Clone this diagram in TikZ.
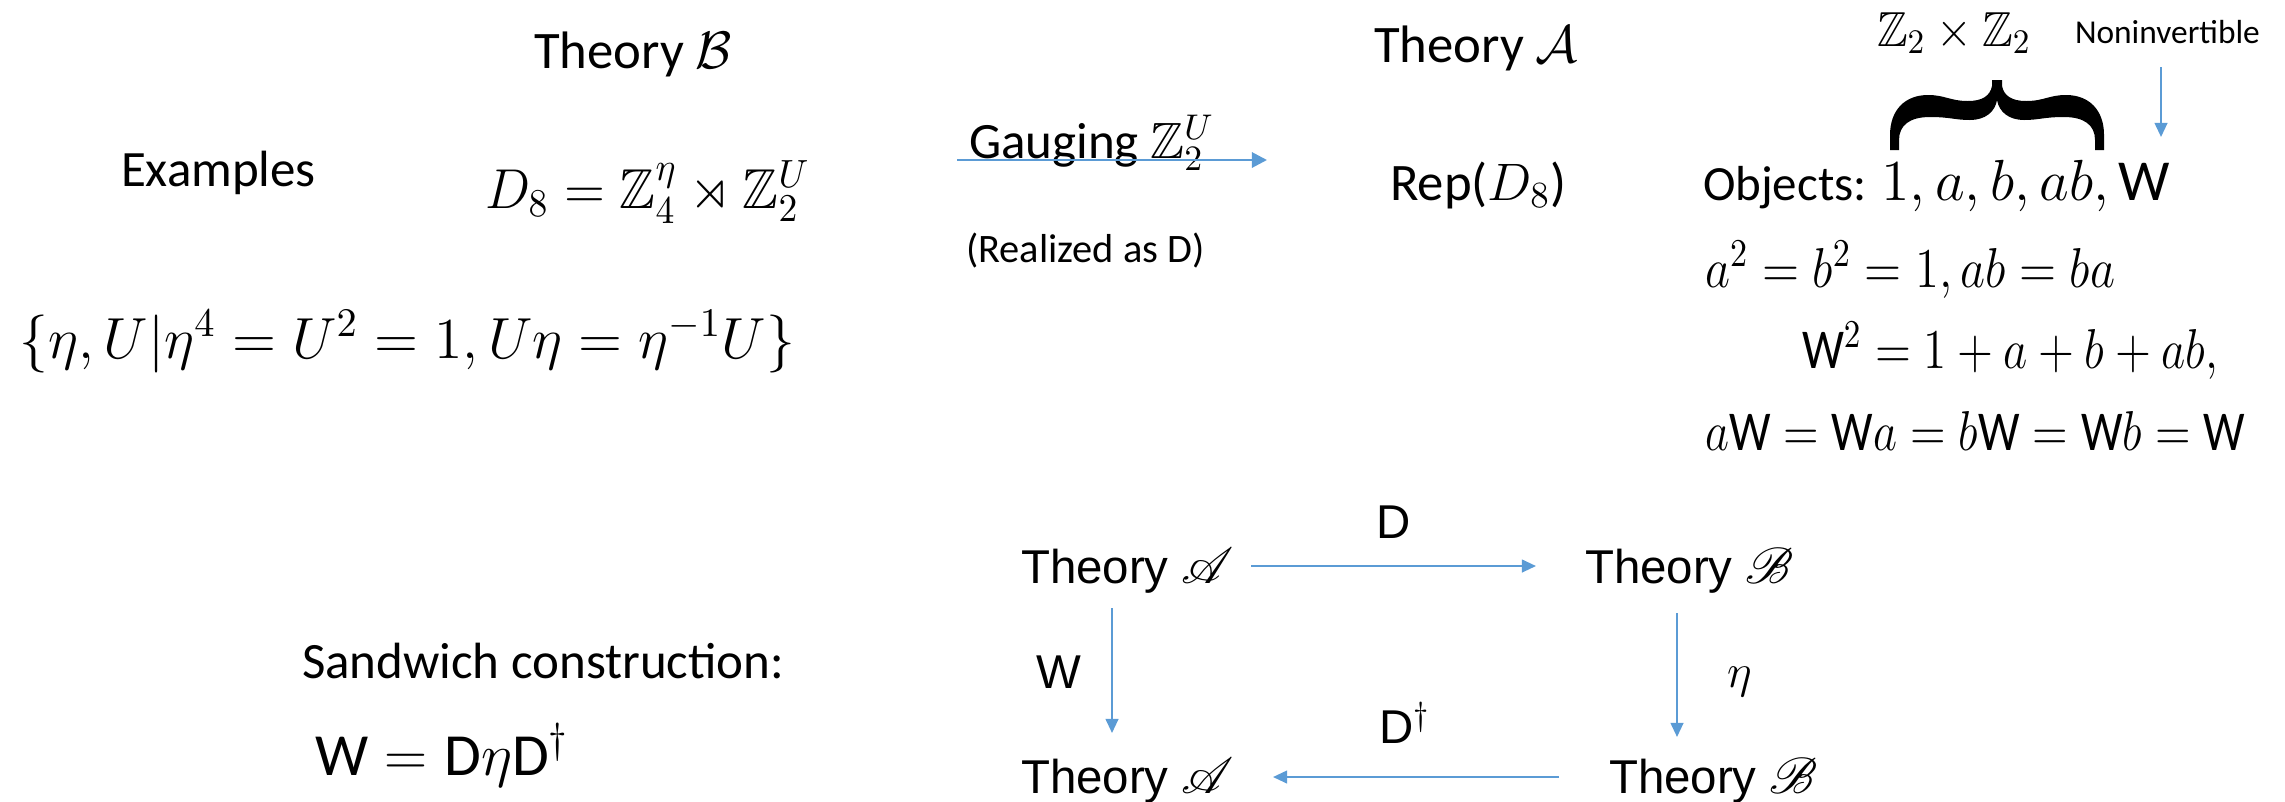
\RequirePackage{fix-cm}
\documentclass[tikz,border=0pt]{standalone}
\usepackage{amsmath,amssymb}
\usepackage{mathrsfs}
\usepackage{fontspec}
\setmainfont{Carlito}
\newfontfamily\helv{Liberation Sans}
\usetikzlibrary{arrows.meta}
\definecolor{arrblue}{RGB}{91,155,213}
\newcommand{\fsz}[1]{\fontsize{#1}{#1}\selectfont}
\newlength\pxu
\setlength\pxu{0.1mm}
\newcommand{\fitw}[2]{\resizebox{#1\pxu}{\height}{#2}}
\begin{document}
\begin{tikzpicture}[x=0.1mm,y=-0.1mm,
  lbl/.style={anchor=base west,inner sep=0pt,outer sep=0pt},
  arr/.style={draw=arrblue,line width=0.6pt,-{Triangle[length=4pt,width=3.6pt]}},
  bigarr/.style={draw=arrblue,line width=0.8pt,-{Triangle[length=4.3pt,width=4.3pt]}},
  diag/.style={lbl,font=\helv\fsz{13.5}}
]
\useasboundingbox (0,0) rectangle (2285,801);

% left column
\node[lbl,font=\fsz{15}] (thB) at (534,68) {Theory $\mathcal{B}$};
\node[lbl,font=\fsz{14.5}] (ex) at (121,186) {Examples};
\node[lbl,font=\fsz{16}] (d8) at (485,208) {\fitw{325}{$D_8=\mathbb{Z}_4^{\eta}\rtimes\mathbb{Z}_2^{U}$}};
\node[lbl,font=\fsz{16.5}] (pres) at (20,358) {\fitw{775}{$\{\eta,U|\eta^4=U^2=1,U\eta=\eta^{-1}U\}$}};

% gauging
\coordinate (g1) at (957,160);
\coordinate (g2) at (1267,160);
\node[lbl,font=\fsz{14.5}] (gauge) at (969,158) {Gauging $\mathbb{Z}_2^U$};
\draw[bigarr] (g1) -- (g2);
\node[lbl,font=\fsz{11.5}] (real) at (966,262) {(Realized as D)};

% theory A
\node[lbl,font=\fsz{15}] (thA) at (1374,62) {Theory $\mathcal{A}$};
\node[lbl,font=\fsz{15}] (rep) at (1390,200) {Rep($D_8$)};

% objects
\node[lbl,font=\fsz{14}] (z2z2) at (1877,46) {\fitw{154}{$\mathbb{Z}_2\times\mathbb{Z}_2$}};
\node[lbl,font=\fsz{9.5}] (noninv) at (2075,43) {Noninvertible};
\coordinate (n1) at (2161,67);
\coordinate (n2) at (2161,137);
\draw[arr] (n1) -- (n2);
\fill[black] (1992,80) -- (1992,86)
  .. controls (1990,96) and (1982,101) .. (1968,101)
  .. controls (1950,101) and (1945,95) .. (1928,95)
  .. controls (1905,95) and (1890,110) .. (1890,135)
  -- (1890,150) -- (1899,150) -- (1899,140)
  .. controls (1899,125) and (1910,117) .. (1930,117)
  .. controls (1950,117) and (1955,120) .. (1970,120)
  .. controls (1985,120) and (1995,112) .. (1997,100)
  .. controls (1999,112) and (2009,120) .. (2024,120)
  .. controls (2039,120) and (2044,117) .. (2064,117)
  .. controls (2084,117) and (2095,125) .. (2095,140)
  -- (2095,150) -- (2104,150) -- (2104,135)
  .. controls (2104,110) and (2089,95) .. (2066,95)
  .. controls (2049,95) and (2044,101) .. (2026,101)
  .. controls (2012,101) and (2004,96) .. (2002,86)
  -- (2002,80) -- cycle;
\node[lbl,font=\fsz{14}] (obj) at (1703,200) {\fitw{467}{Objects: {\fsz{16.5}$1,a,b,ab,\text{W}$}}};
\node[lbl,font=\fsz{16}] (eq1) at (1705,287) {\fitw{410}{$a^2=b^2=1,ab=ba$}};
\node[lbl,font=\fsz{16}] (eq2) at (1802,368) {\fitw{416}{$\text{W}^2=1+a+b+ab,$}};
\node[lbl,font=\fsz{16}] (eq3) at (1705,450) {\fitw{540}{$a\text{W}=\text{W}a=b\text{W}=\text{W}b=\text{W}$}};

% sandwich
\node[lbl,font=\fsz{14.5}] (sand) at (302,678) {Sandwich construction:};
\node[lbl,font=\fsz{17}] (weq) at (315,775) {$\text{W}=\text{D}\eta\text{D}^\dagger$};

% square diagram
\node[diag] (tl) at (1021,583) {Theory $\mathscr{A}$};
\node[diag] (tr) at (1585,583) {Theory $\mathscr{B}$};
\node[diag] (bl) at (1021,793) {Theory $\mathscr{A}$};
\node[diag] (br) at (1609,793) {Theory $\mathscr{B}$};
\node[diag] (lD) at (1376,538) {D};
\node[diag] (lW) at (1036,688) {W};
\node[diag] (leta) at (1727,687) {$\eta$};
\node[diag] (lDd) at (1379,743) {D$^\dagger$};
\coordinate (a1) at (1251,566); \coordinate (a2) at (1536,566);
\coordinate (b1) at (1112,608); \coordinate (b2) at (1112,733);
\coordinate (c1) at (1677,613); \coordinate (c2) at (1677,737);
\coordinate (d1) at (1559,777); \coordinate (d2) at (1273,777);
\draw[arr] (a1) -- (a2);
\draw[arr] (b1) -- (b2);
\draw[arr] (c1) -- (c2);
\draw[arr] (d1) -- (d2);
\end{tikzpicture}
\end{document}
